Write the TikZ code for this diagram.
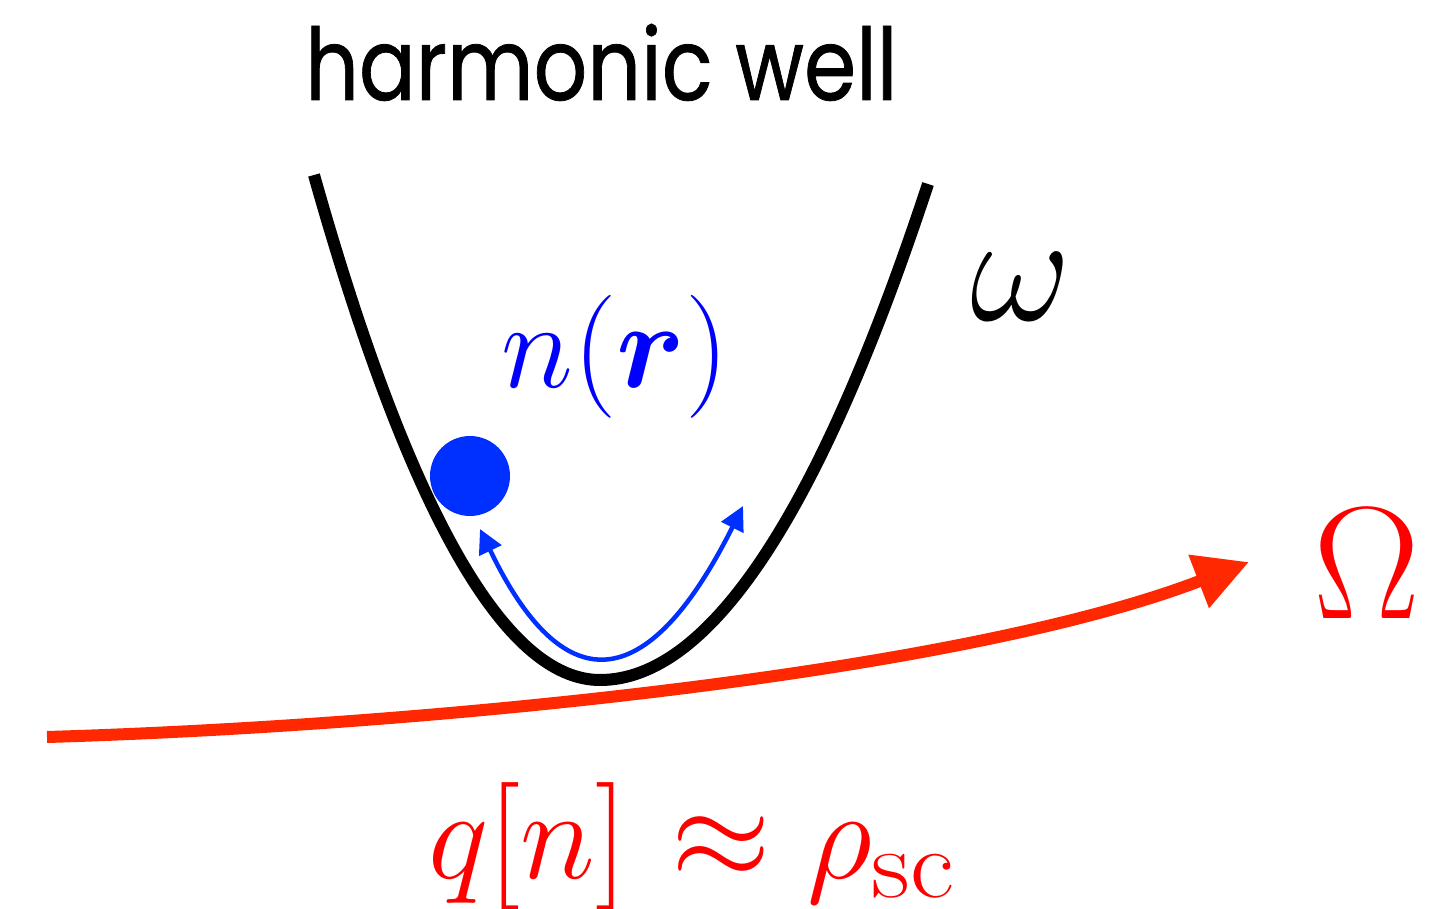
\RequirePackage{fix-cm}
\documentclass[tikz,border=0pt]{standalone}
\usepackage{fontspec}
\usepackage{bm}
\usetikzlibrary{arrows.meta}
\newfontfamily\poppins{Poppins}[FakeBold=0.8]
\DeclareMathSizes{128}{128}{98}{80}
\definecolor{ballblue}{RGB}{0,48,255}
\definecolor{arrred}{RGB}{255,40,0}
\definecolor{txtblue}{RGB}{0,0,255}
\definecolor{txtred}{RGB}{255,0,0}
\begin{document}
\begin{tikzpicture}[x=1pt,y=-1pt]
\tikzset{
  well/.style={line width=12pt, black},
  osc/.style={line width=4.5pt, ballblue, {Triangle[length=24pt,width=24pt]}-{Triangle[length=24pt,width=24pt]}},
  flow/.style={line width=12pt, arrred, -{Triangle[length=54pt,width=54pt]}},
  lbl/.style={inner sep=0pt, anchor=base west},
}
\useasboundingbox (0,0) rectangle (1446,909);
% harmonic well
\coordinate (wl) at (314,175);
\coordinate (wb) at (600,680);
\coordinate (wr) at (928,184);
\draw[well] (wl) .. controls (409,512) and (505,680) .. (wb) .. controls (709,680) and (819,515) .. (wr);
% particle
\node[circle, fill=ballblue, minimum size=80pt, inner sep=0pt] (ball) at (470,476) {};
% oscillation arrow
\coordinate (ol) at (480,529);
\coordinate (or) at (743,506);
\draw[osc] (ol) .. controls (562,700) and (646,700) .. (or);
% red flow arrow
\coordinate (fs) at (47,737);
\coordinate (fe) at (1249,562);
\draw[flow] (fs) .. controls (447,725) and (969,670) .. (fe);
% labels
\node[lbl] (title) at (305,100) {\scalebox{0.84}[1]{\poppins\fontsize{100}{100}\selectfont harmonic well}};
\node[lbl, text=txtblue] (dens) at (501,387) {\fontsize{123}{123}\selectfont$n(\bm{r})$};
\node[lbl] (om) at (970,321) {\fontsize{156}{156}\selectfont$\omega$};
\node[lbl, text=txtred] (Om) at (1313,618) {\fontsize{160}{160}\selectfont$\Omega$};
\node[lbl, text=txtred] (qn) at (428,878) {\fontsize{128}{128}\selectfont$q[n]\mkern1.3mu\approx\rho_{\scalebox{1.1}[1]{$\scriptstyle\mathrm{sc}$}}$};
\end{tikzpicture}
\end{document}
